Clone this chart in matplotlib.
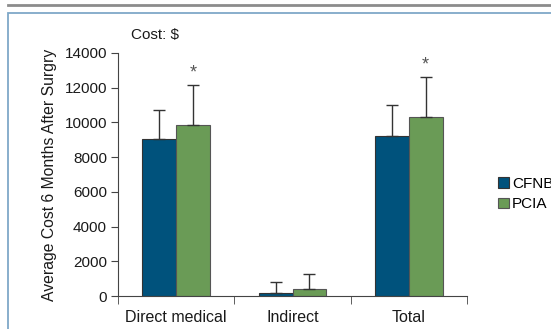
import matplotlib.pyplot as plt
import numpy as np
from matplotlib.lines import Line2D
from matplotlib.patches import Rectangle

plt.rcParams['font.family'] = ['Liberation Sans', 'DejaVu Sans']

categories = ["Direct medical", "Indirect", "Total"]
groups = ["CFNB", "PCIA"]
cfnb = [9030, 200, 9230]
cfnb_err = [1680, 580, 1750]
pcia = [9840, 390, 10330]
pcia_err = [2310, 860, 2270]
starred = [True, False, True]
colors = ["#00527c", "#6a9b56"]

fig = plt.figure(figsize=(5.51, 3.29), dpi=100)

# page decoration: grey rule and panel frame
fig.add_artist(Line2D([8 / 551, 1], [1 - 5 / 329] * 2, color="#8c8c8c", lw=2))
fig.add_artist(Rectangle((8 / 551, -0.05), 1.1, 1 - 13 / 329 + 0.05, fill=False,
                         edgecolor="#7fa8c8", lw=1.3))

ax = fig.add_axes([118 / 551, 1 - 296 / 329, (467 - 118) / 551, (296 - 53) / 329])

x = np.arange(len(categories)) + 0.5
w = 0.29
ax.bar(x - w / 2, cfnb, w, color=colors[0], edgecolor="#333333", lw=0.8, label=groups[0])
ax.bar(x + w / 2, pcia, w, color=colors[1], edgecolor="#555555", lw=0.8, label=groups[1])
ax.errorbar(x - w / 2, cfnb, yerr=[np.zeros(3), cfnb_err], fmt="none",
            ecolor="#333333", elinewidth=1, capsize=4, capthick=1)
ax.errorbar(x + w / 2, pcia, yerr=[np.zeros(3), pcia_err], fmt="none",
            ecolor="#333333", elinewidth=1, capsize=4, capthick=1)
for i, s in enumerate(starred):
    if s:
        ax.text(x[i] + w / 2, pcia[i] + pcia_err[i] + 200, "*", ha="center",
                va="bottom", fontsize=13, color="#555555")

ax.set_xlim(0, 3)
ax.set_ylim(0, 14000)
ax.set_yticks(range(0, 14001, 2000))
ax.set_xticks(x)
ax.set_xticklabels(categories, fontsize=11.5)
ax.set_xticks([0, 1, 2, 3], minor=True)
ax.tick_params(axis="x", which="major", length=0, pad=10)
ax.tick_params(axis="x", which="minor", length=6, color="#444444")
ax.tick_params(axis="y", length=5, color="#444444", pad=3, labelsize=11)
ax.tick_params(labelcolor="#1a1a1a")
for sp in ["top", "right"]:
    ax.spines[sp].set_visible(False)
for sp in ["left", "bottom"]:
    ax.spines[sp].set_color("#444444")
ax.set_ylabel("Average Cost 6 Months After Surgry", fontsize=11.3, color="#1a1a1a", labelpad=5)

fig.text(131 / 551, 1 - 35 / 329, "Cost: $", fontsize=11, color="#1a1a1a", va="center")

ax.legend(loc="center left", bbox_to_anchor=(1.05, 0.42), frameon=False, fontsize=11,
          handlelength=0.7, handleheight=0.7, handletextpad=0.2, labelspacing=0.45)

fig.savefig("out.png", dpi=100)
